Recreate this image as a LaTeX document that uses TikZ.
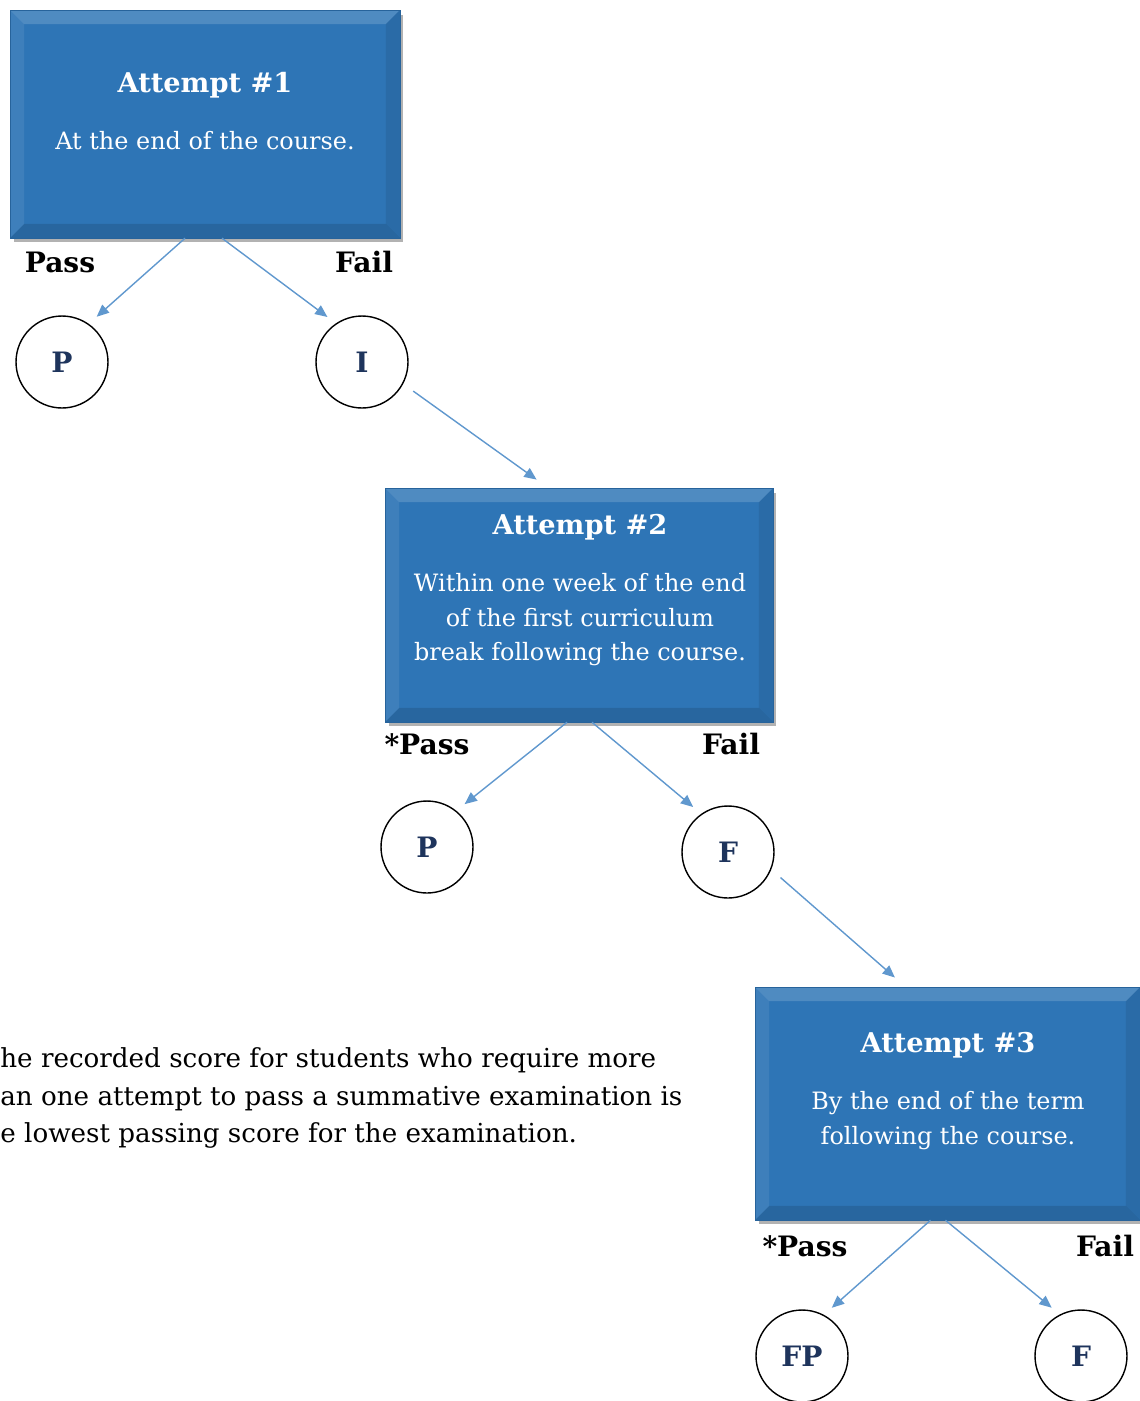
\documentclass[tikz,border=0pt]{standalone}
\usepackage{fontspec}
\setmainfont{DejaVu Serif}
\usetikzlibrary{arrows.meta, calc, shadows}
\definecolor{boxblue}{RGB}{46,117,182}
\definecolor{arrowblue}{RGB}{96,152,206}
\definecolor{gradeblue}{RGB}{30,52,92}

\begin{document}
\begin{tikzpicture}[>={Triangle[length=7pt,width=6pt]}, x=0.02cm, y=-0.02cm,
    attempt/.style={rectangle, fill=boxblue, draw=boxblue!85!black, line width=0.3pt, inner sep=0pt,
        drop shadow={shadow xshift=0.07cm, shadow yshift=-0.09cm, opacity=0.3, fill=black},
        path picture={
            \fill[white, opacity=0.16] (path picture bounding box.north west) -- (path picture bounding box.north east)
                -- ([xshift=-0.28cm,yshift=-0.28cm]path picture bounding box.north east) -- ([xshift=0.28cm,yshift=-0.28cm]path picture bounding box.north west) -- cycle;
            \fill[white, opacity=0.08] (path picture bounding box.north west) -- ([xshift=0.28cm,yshift=-0.28cm]path picture bounding box.north west)
                -- ([xshift=0.28cm,yshift=0.28cm]path picture bounding box.south west) -- (path picture bounding box.south west) -- cycle;
            \fill[black, opacity=0.12] (path picture bounding box.south west) -- (path picture bounding box.south east)
                -- ([xshift=-0.28cm,yshift=0.28cm]path picture bounding box.south east) -- ([xshift=0.28cm,yshift=0.28cm]path picture bounding box.south west) -- cycle;
            \fill[black, opacity=0.08] (path picture bounding box.north east) -- ([xshift=-0.28cm,yshift=-0.28cm]path picture bounding box.north east)
                -- ([xshift=-0.28cm,yshift=0.28cm]path picture bounding box.south east) -- (path picture bounding box.south east) -- cycle;
        }},
    attemptext/.style={text=white, align=center, inner sep=0pt, font=\fontsize{13.6}{19.5}\selectfont},
    grade/.style={circle, draw=black, line width=0.8pt, minimum size=1.84cm, inner sep=0pt, text=gradeblue, font=\fontsize{16}{18}\selectfont\bfseries},
    outcome/.style={inner sep=0pt, font=\fontsize{16}{18}\selectfont\bfseries},
    flow/.style={->, draw=arrowblue, fill=arrowblue, line width=0.8pt}]
    \path[use as bounding box] (0,0) rectangle (1140,1401);

    \node[attempt, minimum width=7.8cm, minimum height=4.56cm] (box1) at (205,124) {};
    \node[attemptext] (text1) at (205,111) {\textbf{\fontsize{15.5}{18}\selectfont Attempt \#1}\\[13pt] At the end of the course.};
    \node[outcome] (pass1) at (60,262) {Pass};
    \node[outcome] (fail1) at (364,262) {Fail};
    \node[grade] (p1) at (62,362) {P};
    \node[grade] (i1) at (362,362) {I};

    \node[attempt, minimum width=7.76cm, minimum height=4.68cm] (box2) at (579,605) {};
    \node[attemptext] (text2) at (580,590) {\textbf{\fontsize{15.5}{18}\selectfont Attempt \#2}\\[13pt] Within one week of the end\\ of the first curriculum\\ break following the course.};
    \node[outcome] (pass2) at (427,744) {*Pass};
    \node[outcome] (fail2) at (731,744) {Fail};
    \node[grade] (p2) at (427,847) {P};
    \node[grade] (f2) at (728,852) {F};

    \node[attempt, minimum width=7.7cm, minimum height=4.66cm] (box3) at (947.5,1103.5) {};
    \node[attemptext] (text3) at (948,1091) {\textbf{\fontsize{15.5}{18}\selectfont Attempt \#3}\\[13pt] By the end of the term\\ following the course.};
    \node[outcome] (pass3) at (805,1246) {*Pass};
    \node[outcome] (fail3) at (1105,1246) {Fail};
    \node[grade] (fp3) at (802,1356) {FP};
    \node[grade] (f3) at (1081,1356) {F};

    \node[anchor=west, align=left, inner sep=0pt, font=\fontsize{14.9}{21.5}\selectfont] (note) at (0,1098)
        {he recorded score for students who require more\\ an one attempt to pass a summative examination is\\ e lowest passing score for the examination.};

    \draw[flow, shorten >=6pt] ($(box1.south)+(-20,0)$) -- (p1.55);
    \draw[flow, shorten >=6pt] ($(box1.south)+(17,0)$) -- (i1.124);
    \draw[flow, shorten <=7pt, shorten >=8pt] (i1.-28) -- ($(box2.north)+(-31,0)$);

    \draw[flow, shorten >=6pt] ($(box2.south)+(-12,0)$) -- (p2.51);
    \draw[flow, shorten >=6pt] ($(box2.south)+(13,0)$) -- (f2.125);
    \draw[flow, shorten <=7pt, shorten >=8pt] (f2.-22) -- ($(box3.north)+(-42,0)$);

    \draw[flow, shorten >=6pt] ($(box3.south)+(-17,0)$) -- (fp3.62);
    \draw[flow, shorten >=6pt] ($(box3.south)+(-2,0)$) -- (f3.117);
\end{tikzpicture}
\end{document}
